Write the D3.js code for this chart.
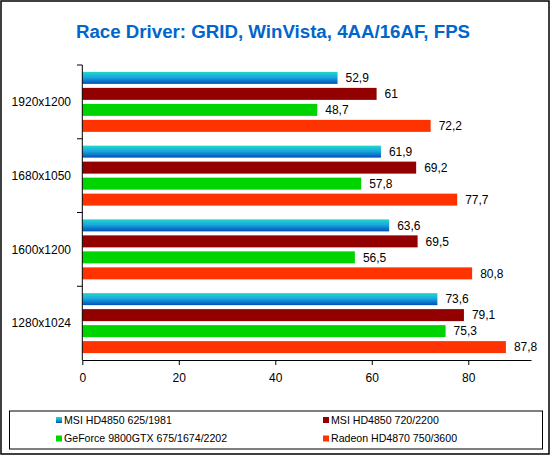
<!DOCTYPE html>
<html><head><meta charset="utf-8">
<script src="https://cdnjs.cloudflare.com/ajax/libs/d3/7.8.5/d3.min.js"></script>
<style>body{margin:0;background:#fff}svg{display:block}text{font-family:Arial,"Liberation Sans",sans-serif}</style>
</head><body><svg id="c" width="552" height="457"></svg>
<script>
const title = "Race Driver: GRID, WinVista, 4AA/16AF, FPS";
const categories = ["1920x1200","1680x1050","1600x1200","1280x1024"];
const seriesNames = ["MSI HD4850 625/1981","MSI HD4850 720/2200","GeForce 9800GTX 675/1674/2202","Radeon HD4870 750/3600"];
const msi625 = [52.9, 61.9, 63.6, 73.6];
const msi720 = [61, 69.2, 69.5, 79.1];
const geforce = [48.7, 57.8, 56.5, 75.3];
const radeon = [72.2, 77.7, 80.8, 87.8];
const xTicks = [0, 20, 40, 60, 80];
const colors = ["url(#gcyan)", "#920000", "#00d400", "#ff3300"];

const series = [msi625, msi720, geforce, radeon];
const svg = d3.select("#c");
const defs = svg.append("defs");
const g = defs.append("linearGradient").attr("id","gcyan").attr("x1",0).attr("y1",0).attr("x2",0).attr("y2",1);
g.append("stop").attr("offset","0%").attr("stop-color","#22d8c8");
g.append("stop").attr("offset","45%").attr("stop-color","#1aa8e0");
g.append("stop").attr("offset","100%").attr("stop-color","#0050b8");

svg.append("rect").attr("x",1).attr("y",1).attr("width",548).attr("height",453)
  .attr("fill","#fff").attr("stroke","#000").attr("stroke-width",1.5);

svg.append("text").attr("x",273).attr("y",38).attr("text-anchor","middle")
  .attr("font-size",18.7).attr("font-weight","bold").attr("fill","#0066cc").text(title);

const x = d3.scaleLinear().domain([0, 93]).range([82.3, 531]);
const y0 = d3.scaleBand().domain(categories).range([65, 360]);
const y1 = d3.scaleBand().domain(d3.range(4)).range([0, y0.bandwidth()]).paddingInner(0.25).paddingOuter(0.43);

const grp = svg.append("g").selectAll("g").data(categories).join("g")
  .attr("transform", d => `translate(0,${y0(d)})`);
grp.each(function(cat, ci){
  const gg = d3.select(this);
  series.forEach((s, si) => {
    gg.append("rect").attr("x", x(0)).attr("y", y1(si)).attr("width", x(s[ci]) - x(0))
      .attr("height", y1.bandwidth()).attr("fill", colors[si]);
    gg.append("text").attr("x", x(s[ci]) + 8).attr("y", y1(si) + y1.bandwidth()/2)
      .attr("dy","0.35em").attr("font-size",12).attr("fill","#000")
      .text(String(s[ci]).replace(".", ","));
  });
  gg.append("text").attr("x", 71).attr("y", y0.bandwidth()/2).attr("dy","0.35em")
    .attr("text-anchor","end").attr("font-size",12).attr("fill","#000").text(cat);
});

// y axis
const ya = svg.append("g");
ya.append("line").attr("x1",82.3).attr("x2",82.3).attr("y1",65).attr("y2",360).attr("stroke","#000");
categories.forEach(c => {
  ya.append("line").attr("x1",77).attr("x2",82.3).attr("y1",y0(c)).attr("y2",y0(c)).attr("stroke","#000");
});

// x axis
const xa = svg.append("g").attr("transform","translate(0,360)")
  .call(d3.axisBottom(x).tickValues(xTicks).tickSize(5).tickSizeOuter(0).tickPadding(8));
xa.select(".domain").attr("stroke","#000");
xa.selectAll("line").attr("stroke","#000");
xa.selectAll("text").attr("font-size",12).attr("font-family","Arial,'Liberation Sans',sans-serif").attr("fill","#000");

// legend
svg.append("rect").attr("x",9.5).attr("y",411).attr("width",533).attr("height",38)
  .attr("fill","#fff").attr("stroke","#000").attr("stroke-width",1);
const legPos = [[56,420],[323,420],[56,438.5],[323,438.5]];
seriesNames.forEach((n, i) => {
  const [lx, ly] = legPos[i];
  svg.append("rect").attr("x", lx).attr("y", ly - 3).attr("width",6).attr("height",6).attr("fill", colors[i]);
  svg.append("text").attr("x", lx + 8).attr("y", ly).attr("dy","0.35em")
    .attr("font-size",10.6).attr("fill","#000").text(n);
});
</script></body></html>
